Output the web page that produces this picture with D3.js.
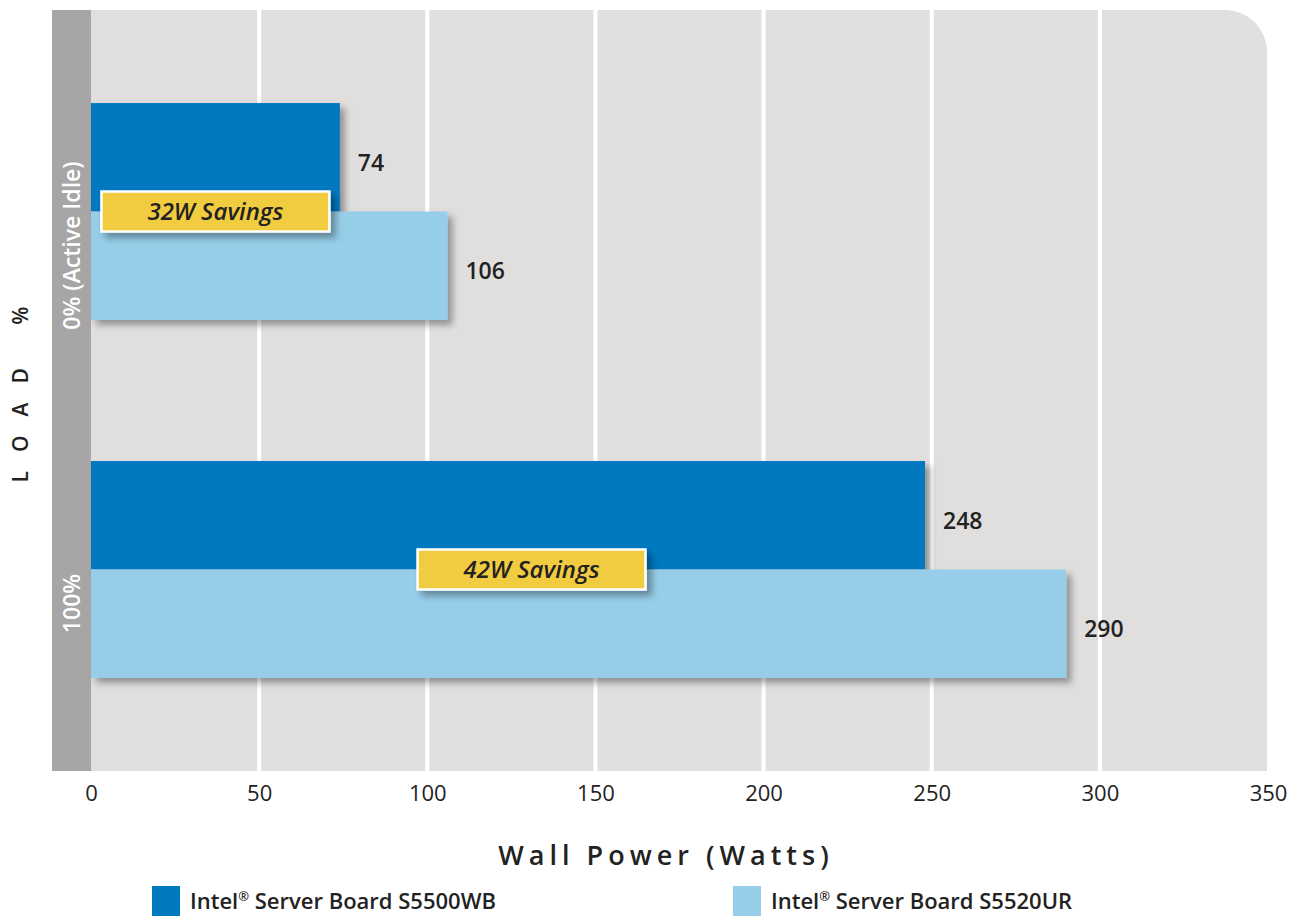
<!DOCTYPE html>
<html><head><meta charset="utf-8">
<script src="https://cdn.jsdelivr.net/npm/d3@7"></script>
<style>
html,body{margin:0;padding:0;background:#fff;}
svg{display:block;font-family:"Open Sans","Noto Sans",sans-serif;}
</style></head>
<body>
<svg id="chart" width="1297" height="916"></svg>
<script>
// ---- data ----
const categories = ["0% (Active Idle)", "100%"];
const seriesNames = ["Intel® Server Board S5500WB", "Intel® Server Board S5520UR"];
const s5500wb = [74, 248];
const s5520ur = [106, 290];
const savingsAt = [37, 131]; // annotation centre, in watts
const xTicks = [0, 50, 100, 150, 200, 250, 300, 350];
const colors = ["#0079c1", "#96cde8"];

const svg = d3.select("#chart");
const L = 52, strip = 39, R = 1267, T = 10, B = 771;
const x0 = L + strip;
const x = d3.scaleLinear().domain([0, 350]).range([x0, R + 1]);
const y = d3.scaleBand().domain(categories).range([T, B]).paddingInner(0.394).paddingOuter(0.26);
const ySub = d3.scaleBand().domain([0, 1]).range([0, y.bandwidth()]);

const defs = svg.append("defs");
const f = defs.append("filter").attr("id", "sh").attr("x", "-10%").attr("y", "-10%").attr("width", "130%").attr("height", "140%");
f.append("feDropShadow").attr("dx", 5).attr("dy", 5).attr("stdDeviation", 3.5).attr("flood-color", "#000").attr("flood-opacity", 0.35);

// background with rounded top-right corner
const r = 42;
svg.append("path")
  .attr("d", `M${L},${T} H${R - r} A${r},${r} 0 0 1 ${R},${T + r} V${B} H${L} Z`)
  .attr("fill", "#e0dfde");
svg.append("rect").attr("x", L).attr("y", T).attr("width", strip).attr("height", B - T).attr("fill", "#a7a5a5");

// gridlines
svg.append("g").selectAll("line").data(xTicks.filter(d => d > 0 && d < 350)).join("line")
  .attr("x1", d => x(d)).attr("x2", d => x(d)).attr("y1", T).attr("y2", B)
  .attr("stroke", "#fff").attr("stroke-width", 4);

// bars
const rows = categories.map((c, i) => ({ c, vals: [s5500wb[i], s5520ur[i]] }));
const g = svg.append("g");
rows.forEach(row => {
  row.vals.forEach((v, j) => {
    g.append("rect")
      .attr("x", x(0)).attr("y", y(row.c) + ySub(j))
      .attr("width", x(v) - x(0)).attr("height", ySub.bandwidth())
      .attr("fill", colors[j]).attr("filter", "url(#sh)");
  });
});
rows.forEach(row => {
  row.vals.forEach((v, j) => {
    g.append("text")
      .attr("x", x(v) + 18).attr("y", y(row.c) + ySub(j) + ySub.bandwidth() / 2 + 5)
      .attr("dy", "0.36em").attr("font-size", 23).attr("font-weight", 600).attr("fill", "#222")
      .text(v);
  });
});

// savings annotations
rows.forEach((row, i) => {
  const cx = x(savingsAt[i]), cy = y(row.c) + y.bandwidth() / 2;
  const w = 228, h = 40;
  g.append("rect").attr("x", cx - w / 2).attr("y", cy - h / 2).attr("width", w).attr("height", h)
    .attr("fill", "#f2cc40").attr("stroke", "#fff").attr("stroke-width", 2.5).attr("filter", "url(#sh)");
  g.append("text").attr("x", cx).attr("y", cy).attr("dy", "0.36em").attr("text-anchor", "middle")
    .attr("font-size", 24).attr("font-weight", 600).attr("font-style", "italic").attr("fill", "#222")
    .text(`${row.vals[1] - row.vals[0]}W Savings`);
});

// category labels in strip
rows.forEach(row => {
  const cy = y(row.c) + y.bandwidth() / 2 + 34;
  svg.append("text").attr("transform", `translate(${L + strip / 2},${cy}) rotate(-90)`)
    .attr("dy", "0.36em").attr("text-anchor", "middle").attr("font-size", 23).attr("font-weight", 600)
    .attr("fill", "#fff").text(row.c);
});

// x axis
const xAxis = d3.axisBottom(x).tickValues(xTicks).tickSize(0).tickPadding(14);
const ax = svg.append("g").attr("transform", `translate(0,${B})`).call(xAxis);
ax.select(".domain").remove();
ax.selectAll("text").attr("font-size", 22).attr("fill", "#222").attr("font-family", "'Open Sans','Noto Sans',sans-serif");

// axis titles
svg.append("text").attr("x", 666).attr("y", 865).attr("text-anchor", "middle")
  .attr("font-size", 27).attr("font-weight", 600).attr("letter-spacing", 5).attr("fill", "#222")
  .text("Wall Power (Watts)");
svg.append("text").attr("transform", `translate(20,${385}) rotate(-90)`)
  .attr("dy", "0.36em").attr("text-anchor", "middle").attr("font-size", 21).attr("font-weight", 600)
  .attr("letter-spacing", 19).attr("fill", "#222").text("LOAD %");

// legend
const legX = [152, 733];
seriesNames.forEach((name, j) => {
  svg.append("rect").attr("x", legX[j]).attr("y", 886).attr("width", 28).attr("height", 30).attr("fill", colors[j]);
  const t = svg.append("text").attr("x", legX[j] + 38).attr("y", 909)
    .attr("font-size", 22).attr("font-weight", 600).attr("fill", "#222");
  const parts = name.split("®");
  t.append("tspan").text(parts[0]);
  t.append("tspan").attr("font-size", 13).attr("dy", -8).text("®");
  t.append("tspan").attr("dy", 8).text(parts[1]);
});
</script>
</body></html>
